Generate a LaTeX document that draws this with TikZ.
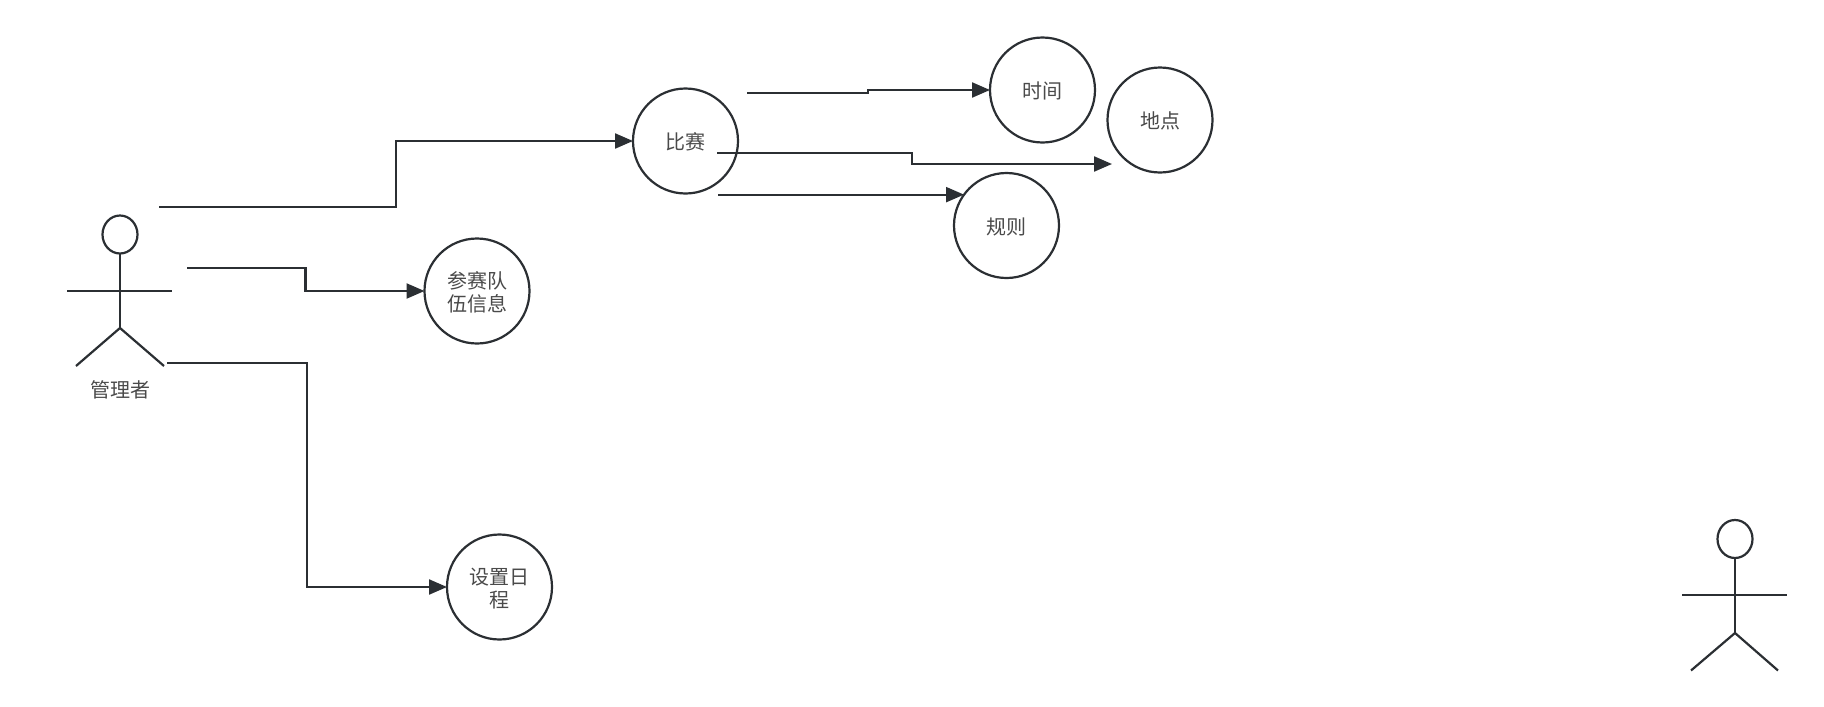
\documentclass[tikz,border=0pt]{standalone}
\usepackage{fontspec}
\setmainfont{Noto Sans CJK SC}
\usetikzlibrary{shapes.geometric,arrows.meta}
\definecolor{ink}{HTML}{2B2F33}
\definecolor{label}{HTML}{4A4A4A}
\tikzset{
  usecase/.style={draw=ink,line width=2.2pt,ellipse,minimum width=105pt,minimum height=105pt,inner sep=0pt,outer sep=0pt,
    align=center,font=\fontsize{20}{23.5}\selectfont,text=label,text height=20pt,text depth=2.2pt},
  twoline/.style={text height=43pt,text depth=1.7pt},
  head/.style={draw=ink,line width=2.2pt,ellipse,minimum width=35pt,minimum height=38pt,inner sep=0pt,outer sep=0pt},
  limb/.style={draw=ink,line width=2.2pt},
  conn/.style={draw=ink,line width=2.2pt,-{Triangle[length=18pt,width=15pt]}},
  caption/.style={font=\fontsize{20}{24}\selectfont,text=label,inner sep=0pt}
}
\begin{document}
\begin{tikzpicture}[x=1pt,y=-1pt]
\useasboundingbox (0,0) rectangle (1824,707);
\fill[white] (0,0) rectangle (1824,707);
% use cases
\node[usecase] (bisai) at (685.5,141) {比赛};
\node[usecase] (shijian) at (1042.5,90) {时间};
\node[usecase] (didian) at (1160,120) {地点};
\node[usecase] (guize) at (1006.5,225.5) {规则};
\node[usecase,twoline] (duiwu) at (477,291) {参赛队\\伍信息};
\node[usecase,twoline] (richeng) at (499.5,587) {设置日\\程};
% actor 1
\node[head] (head1) at (120,234.5) {};
\coordinate (neck1) at (head1.south);
\coordinate (hip1) at (120,328);
\coordinate (armL1) at (67,291);
\coordinate (armR1) at (172,291);
\coordinate (legL1) at (76,366);
\coordinate (legR1) at (164,366);
\draw[limb] (neck1) -- (hip1);
\draw[limb] (armL1) -- (armR1);
\draw[limb] (legL1) -- (hip1) -- (legR1);
\node[caption] (actor1) at (120,390) {管理者};
% actor 2
\node[head] (head2) at (1735,539) {};
\coordinate (neck2) at (head2.south);
\coordinate (hip2) at (1735,633);
\coordinate (armL2) at (1682,595);
\coordinate (armR2) at (1787,595);
\coordinate (legL2) at (1691,670.5);
\coordinate (legR2) at (1778,670.5);
\draw[limb] (neck2) -- (hip2);
\draw[limb] (armL2) -- (armR2);
\draw[limb] (legL2) -- (hip2) -- (legR2);
% connector free ends
\coordinate (sA) at (159,207);
\coordinate (sB) at (187,268);
\coordinate (sC) at (167,363);
\coordinate (sD) at (747,93);
\coordinate (sE) at (717,153);
\coordinate (eE) at (1112,164);
% connectors
\draw[conn] (sA) -- (396,207) |- (bisai.west);
\draw[conn] (sB) -- (305.5,268) |- (duiwu.west);
\draw[conn] (sC) -- (307,363) |- (richeng.west);
\draw[conn] (sD) -- (868,93) |- (shijian.west);
\draw[conn] (sE) -- (912,153) |- (eE);
\draw[conn] (guize.144.5) ++(-246,0) coordinate (sF) -- (guize.144.5);
\end{tikzpicture}
\end{document}
